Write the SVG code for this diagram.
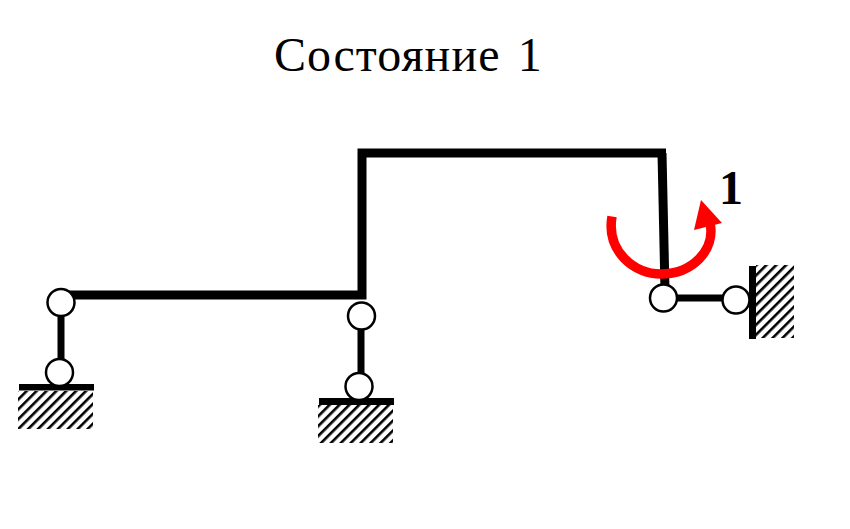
<svg xmlns="http://www.w3.org/2000/svg" width="850" height="529" viewBox="0 0 850 529">
<style>
.bar{fill:none;stroke:#000;stroke-width:9}
.thin{fill:none;stroke:#000;stroke-width:7}
.hinge{fill:#fff;stroke:#000;stroke-width:2.5}
.ground{fill:url(#hatch)}
text{font-family:"Liberation Serif","Times New Roman",serif;fill:#000}
</style>
<defs>
<pattern id="hatch" width="7" height="7" patternUnits="userSpaceOnUse" patternTransform="rotate(-45)">
<rect width="7" height="7" fill="#fff"/>
<rect width="7" height="2.600" fill="#000"/>
</pattern>
</defs>
<rect width="850" height="529" fill="#fff"/>
<text x="274" y="71" font-size="48" letter-spacing="1.100" word-spacing="4">Состояние 1</text>
<g id="connectors">
<path class="bar" d="M61 295H362V153H666"/>
<path class="bar" d="M662 153L665 290"/>
<path class="thin" d="M61 310V365M361 330V378"/>
<path class="thin" d="M668 298H730"/>
</g>
<g id="support-left">
<rect class="ground" x="18" y="391" width="75" height="38"/>
<rect x="19" y="384" width="75" height="6.500"/>
<circle class="hinge" cx="59.500" cy="372.500" r="13.500"/>
<circle class="hinge" cx="61" cy="302.500" r="13.500"/>
</g>
<g id="support-middle">
<rect class="ground" x="318" y="405" width="75" height="38"/>
<rect x="319" y="398" width="75" height="7"/>
<circle class="hinge" cx="359" cy="386.500" r="13.500"/>
<circle class="hinge" cx="361.500" cy="316" r="13.500"/>
</g>
<g id="support-right">
<rect class="ground" x="756" y="265" width="38" height="73"/>
<rect x="749" y="266" width="7" height="73"/>
<circle class="hinge" cx="736" cy="300" r="13.500"/>
<circle class="hinge" cx="663.500" cy="298" r="13.500"/>
</g>
<g id="moment">
<path d="M612 216.500C606 252 635 274 661 274C692 274 716 250 710 223" fill="none" stroke="#f00" stroke-width="9.500"/>
<polygon points="701,200 722,223 694,230" fill="#f00"/>
<text x="731" y="204" font-size="48" font-weight="bold" text-anchor="middle">1</text>
</g>
</svg>
